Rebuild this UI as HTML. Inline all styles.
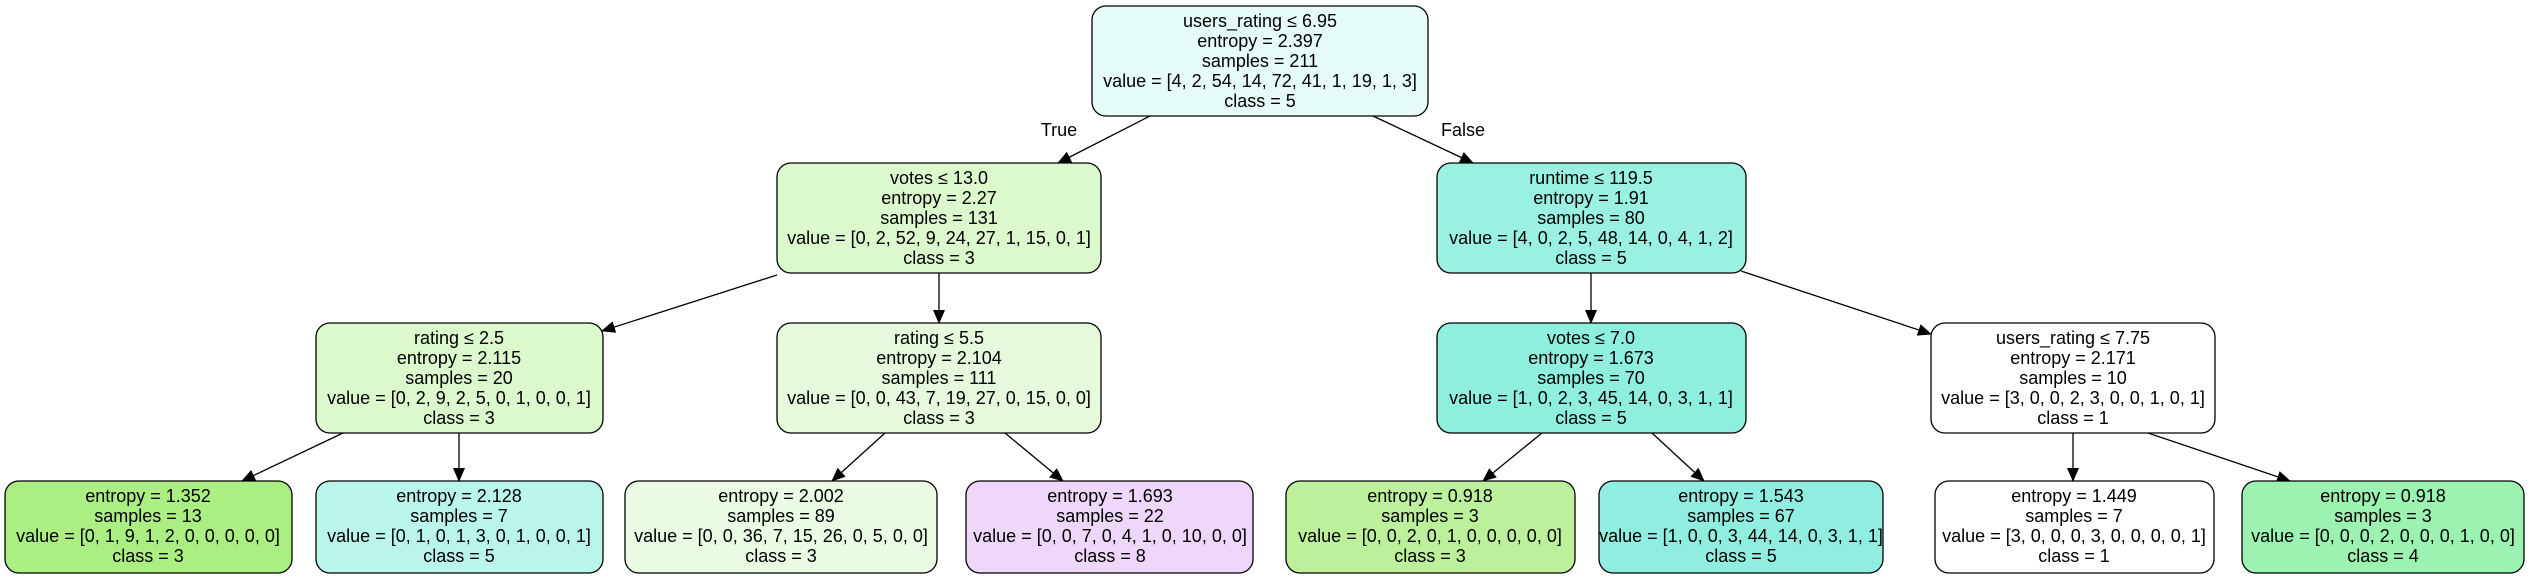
<!DOCTYPE html>
<html><head><meta charset="utf-8"><style>
html,body{margin:0;padding:0;background:#fff;}
svg{display:block}
text{font-family:"Liberation Sans",Arial,sans-serif;font-size:18px;fill:#000;text-anchor:middle}
rect{stroke:#000;stroke-width:1.3}
line{stroke:#000;stroke-width:1.3}
</style></head><body>
<svg width="2533" height="577" viewBox="0 0 2533 577" xmlns="http://www.w3.org/2000/svg">
<defs><marker id="a" markerWidth="14" markerHeight="12" refX="13" refY="6" orient="auto" markerUnits="userSpaceOnUse"><path d="M0,0 L14,6 L0,12 z" fill="#000"/></marker></defs>
<g marker-end="url(#a)">
<line x1="1150" y1="116" x2="1058" y2="163"/>
<line x1="1373" y1="116" x2="1473" y2="163"/>
<line x1="777" y1="275" x2="602" y2="331"/>
<line x1="939" y1="273" x2="939" y2="323"/>
<line x1="1591" y1="273" x2="1591" y2="323"/>
<line x1="1741" y1="271" x2="1931" y2="334"/>
<line x1="343" y1="433" x2="242" y2="481"/>
<line x1="459" y1="433" x2="459" y2="481"/>
<line x1="885" y1="433" x2="832" y2="481"/>
<line x1="1005" y1="433" x2="1063" y2="481"/>
<line x1="1542" y1="433" x2="1483" y2="481"/>
<line x1="1652" y1="433" x2="1704" y2="481"/>
<line x1="2073" y1="433" x2="2073" y2="481"/>
<line x1="2148" y1="433" x2="2290" y2="481"/>
</g>
<text x="1059" y="136">True</text>
<text x="1463" y="136">False</text>

<rect x="1092" y="6" width="336" height="110" rx="14" fill="#e6fcf8"/>
<text x="1260" y="27">users_rating ≤ 6.95</text><text x="1260" y="47">entropy = 2.397</text><text x="1260" y="67">samples = 211</text><text x="1260" y="87">value = [4, 2, 54, 14, 72, 41, 1, 19, 1, 3]</text><text x="1260" y="107">class = 5</text>

<rect x="777" y="163" width="324" height="110" rx="14" fill="#dcf8cd"/>
<text x="939" y="184">votes ≤ 13.0</text><text x="939" y="204">entropy = 2.27</text><text x="939" y="224">samples = 131</text><text x="939" y="244">value = [0, 2, 52, 9, 24, 27, 1, 15, 0, 1]</text><text x="939" y="264">class = 3</text>

<rect x="1437" y="163" width="309" height="110" rx="14" fill="#9af1e1"/>
<text x="1591" y="184">runtime ≤ 119.5</text><text x="1591" y="204">entropy = 1.91</text><text x="1591" y="224">samples = 80</text><text x="1591" y="244">value = [4, 0, 2, 5, 48, 14, 0, 4, 1, 2]</text><text x="1591" y="264">class = 5</text>

<rect x="316" y="323" width="287" height="110" rx="14" fill="#dcf8cd"/>
<text x="459" y="344">rating ≤ 2.5</text><text x="459" y="364">entropy = 2.115</text><text x="459" y="384">samples = 20</text><text x="459" y="404">value = [0, 2, 9, 2, 5, 0, 1, 0, 0, 1]</text><text x="459" y="424">class = 3</text>

<rect x="777" y="323" width="324" height="110" rx="14" fill="#e6f9dc"/>
<text x="939" y="344">rating ≤ 5.5</text><text x="939" y="364">entropy = 2.104</text><text x="939" y="384">samples = 111</text><text x="939" y="404">value = [0, 0, 43, 7, 19, 27, 0, 15, 0, 0]</text><text x="939" y="424">class = 3</text>

<rect x="1437" y="323" width="309" height="110" rx="14" fill="#8eefde"/>
<text x="1591" y="344">votes ≤ 7.0</text><text x="1591" y="364">entropy = 1.673</text><text x="1591" y="384">samples = 70</text><text x="1591" y="404">value = [1, 0, 2, 3, 45, 14, 0, 3, 1, 1]</text><text x="1591" y="424">class = 5</text>

<rect x="1931" y="323" width="284" height="110" rx="14" fill="#ffffff"/>
<text x="2073" y="344">users_rating ≤ 7.75</text><text x="2073" y="364">entropy = 2.171</text><text x="2073" y="384">samples = 10</text><text x="2073" y="404">value = [3, 0, 0, 2, 3, 0, 0, 1, 0, 1]</text><text x="2073" y="424">class = 1</text>

<rect x="5" y="481" width="287" height="92" rx="14" fill="#abef82"/>
<text x="148" y="502">entropy = 1.352</text><text x="148" y="522">samples = 13</text><text x="148" y="542">value = [0, 1, 9, 1, 2, 0, 0, 0, 0, 0]</text><text x="148" y="562">class = 3</text>

<rect x="316" y="481" width="287" height="92" rx="14" fill="#baf5ec"/>
<text x="459" y="502">entropy = 2.128</text><text x="459" y="522">samples = 7</text><text x="459" y="542">value = [0, 1, 0, 1, 3, 0, 1, 0, 0, 1]</text><text x="459" y="562">class = 5</text>

<rect x="625" y="481" width="312" height="92" rx="14" fill="#ebfae2"/>
<text x="781" y="502">entropy = 2.002</text><text x="781" y="522">samples = 89</text><text x="781" y="542">value = [0, 0, 36, 7, 15, 26, 0, 5, 0, 0]</text><text x="781" y="562">class = 3</text>

<rect x="966" y="481" width="287" height="92" rx="14" fill="#eed7fa"/>
<text x="1110" y="502">entropy = 1.693</text><text x="1110" y="522">samples = 22</text><text x="1110" y="542">value = [0, 0, 7, 0, 4, 1, 0, 10, 0, 0]</text><text x="1110" y="562">class = 8</text>

<rect x="1286" y="481" width="289" height="92" rx="14" fill="#bdf09a"/>
<text x="1430" y="502">entropy = 0.918</text><text x="1430" y="522">samples = 3</text><text x="1430" y="542">value = [0, 0, 2, 0, 1, 0, 0, 0, 0, 0]</text><text x="1430" y="562">class = 3</text>

<rect x="1599" y="481" width="284" height="92" rx="14" fill="#8feedf"/>
<text x="1741" y="502">entropy = 1.543</text><text x="1741" y="522">samples = 67</text><text x="1741" y="542">value = [1, 0, 0, 3, 44, 14, 0, 3, 1, 1]</text><text x="1741" y="562">class = 5</text>

<rect x="1935" y="481" width="279" height="92" rx="14" fill="#ffffff"/>
<text x="2074" y="502">entropy = 1.449</text><text x="2074" y="522">samples = 7</text><text x="2074" y="542">value = [3, 0, 0, 0, 3, 0, 0, 0, 0, 1]</text><text x="2074" y="562">class = 1</text>

<rect x="2242" y="481" width="282" height="92" rx="14" fill="#9cf2b0"/>
<text x="2383" y="502">entropy = 0.918</text><text x="2383" y="522">samples = 3</text><text x="2383" y="542">value = [0, 0, 0, 2, 0, 0, 0, 1, 0, 0]</text><text x="2383" y="562">class = 4</text>
</svg>
</body></html>
